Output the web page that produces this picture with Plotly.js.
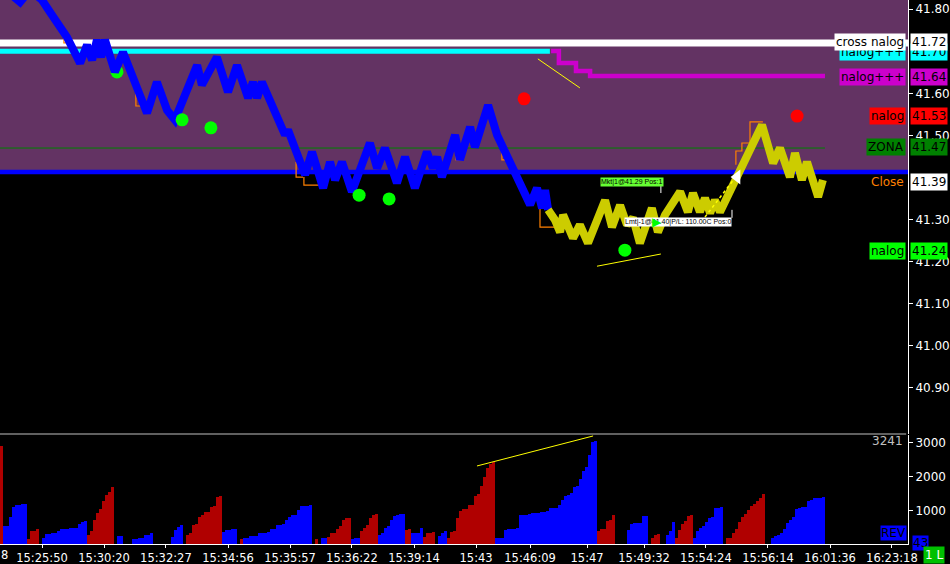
<!DOCTYPE html>
<html><head><meta charset="utf-8">
<script src="https://cdn.plot.ly/plotly-3.0.1.min.js"></script>
<style>html,body{margin:0;padding:0;background:#000;}#chart{width:950px;height:564px;}</style>
</head><body><div id="chart"></div>
<script>
// ---------- DATA (x = bar index, y = price / volume) ----------
const tickBars = [13.5,34.2,54.8,75.5,96.2,116.8,137.5,158.2,176.2,195.2,214.2,234.8,255.5,276.2,296.8];
const tickLabels = ['15:25:50','15:30:20','15:32:27','15:34:56','15:35:57','15:36:22','15:39:14','15:43','15:46:09','15:47','15:49:32','15:54:24','15:56:14','16:01:36','16:23:18'];
const priceTicks = [40.9,41.0,41.1,41.2,41.3,41.5,41.6,41.8];
const volTicks = [1000,2000,3000];

const bluePathBar = [2.2,6.2,9.5,13.5,16.2,18.8,21.8,26.2,28.5,30.2,31.8,33.2,34.5,37.8,40.5,48.5,51.8,55.2,57.8,65.2,66.8,71.8,75.5,78.5,82.2,83.8,85.2,86.8,92.8,94.5,95.5,101.2,103.5,107.2,109.5,111.2,113.5,116.8,122.8,125.2,127.8,131.8,134.5,137.8,141.8,143.8,145.2,146.8,151.2,152.8,156.2,157.8,162.2,165.2,176.2,178.5,180.2,181.2,182.2];
const bluePathPrice = [41.841,41.817,41.846,41.822,41.793,41.763,41.734,41.672,41.715,41.679,41.727,41.686,41.727,41.651,41.698,41.553,41.627,41.560,41.537,41.667,41.620,41.686,41.603,41.667,41.589,41.627,41.589,41.627,41.529,41.501,41.513,41.406,41.461,41.375,41.437,41.394,41.437,41.366,41.482,41.422,41.470,41.387,41.449,41.375,41.461,41.422,41.449,41.401,41.501,41.442,41.520,41.472,41.572,41.501,41.335,41.375,41.327,41.370,41.323];
const yellowPathBar = [182.2,184.5,186.2,187.2,190.5,192.8,195.5,201.2,203.5,206.2,208.5,210.5,212.8,216.8,218.8,221.2,226.2,228.8,230.5,232.8,234.5,236.2,237.8,239.5,253.5,257.2,259.5,262.8,264.5,266.8,268.5,272.2,273.8];
const yellowPathPrice = [41.323,41.299,41.270,41.311,41.256,41.287,41.244,41.346,41.282,41.334,41.287,41.304,41.244,41.327,41.270,41.311,41.366,41.318,41.363,41.318,41.351,41.315,41.346,41.318,41.525,41.434,41.470,41.401,41.458,41.394,41.437,41.354,41.394];

const orangeBar = [20.8,20.8,22.2,null,44.8,44.8,46.8,null,98.2,98.2,100.5,null,100.8,100.8,105.8,null,151.5,151.5,153.8,null,166.8,166.8,168.5,null,179.5,179.5,185.2,null,244.8,244.8,246.8,246.8,249.5,249.5,253.8];
const orangePrice = [41.739,41.720,41.720,null,41.601,41.570,41.570,null,41.437,41.401,41.401,null,41.401,41.382,41.382,null,41.461,41.442,41.442,null,41.470,41.442,41.442,null,41.327,41.282,41.282,null,41.430,41.463,41.463,41.482,41.482,41.532,41.532];

const greenDotBar = [38.5,60.2,69.8,119.2,129.2,207.8];
const greenDotPrice = [41.651,41.537,41.518,41.358,41.349,41.227];
const redDotBar = [174.2,265.2];
const redDotPrice = [41.587,41.546];

const levelCrossNalog = 41.72;
const levelNalogCyan = 41.70;
const levelNalogMagenta = 41.64;
const levelNalogRed = 41.53;
const levelZona = 41.47;
const levelClose = 41.39;
const levelNalogGreen = 41.24;
const levelBase = 41.413;
const magentaBar = [183.2,185.8,190.2,191.5,195.5,196.2,274.5];
const magentaPrice = [41.701,41.672,41.672,41.653,41.653,41.641,41.641];

const trendABar = [178.8,192.8], trendAPrice = [41.682,41.613];
const trendBBar = [198.5,219.8], trendBPrice = [41.189,41.218];
const trendDotBar = [234.5,244.5], trendDotPrice = [41.306,41.399];
const volTrendBar = [158.5,197.2], volTrendValue = [2315,3197];
const arrowBar = [245.2,218.5], arrowPrice = [41.401,41.294];
const tradeTickBar = [219.8,219.8,null,243.5,243.5];
const tradeTickPrice = [41.380,41.363,null,41.323,41.304];

const volStart = [0,1,9,14,29,39,44,57,62,74,80,81,105,107,109,117,120,126,135,137,141,146,149,165,199,209,217,222,225,231,242,257];
const volSide = ['R','B','R','B','R','B','B','B','R','B','R','B','R','B','R','B','R','B','R','B','R','B','R','B','R','B','R','B','R','B','R','B'];
const volWaves = [
 [2910],
 [560,560,820,1120,1180,1180,1200,1200],
 [180,390,390,470],
 [190,300,300,330,330,410,470,470,470,500,500,500,620,680,700],
 [290,410,740,940,1060,1290,1470,1560,1710],
 [270,270],
 [180,180,210,210,290,290,350],
 [230,440,530,590],
 [290,350,590,620,820,880,970,970,1120,1150,1410,1440],
 [380,440,440,470,470],
 [180],
 [190,190,270,270,270,330,350,350,380,470,470,590,590,620,740,820,880,880,1030,1150,1150,1150,1180],
 [180],
 [200,200],
 [230,350,350,470,560,740,770,770],
 [180,210,210],
 [410,500,590,770,880,910],
 [290,350,500,560,740,830,880,910,910],
 [440,470],
 [350,350,350,500],
 [240,350,350,380],
 [270,350,410],
 [190,380,410,770,990,1060,1060,1180,1180,1440,1500,1730,2000,2260,2380,2440],
 [190,210,210,440,470,470,470,500,880,880,880,910,940,940,940,970,970,1000,1090,1090,1090,1180,1300,1440,1470,1530,1710,1730,1940,2170,2290,2650,3030,3060],
 [410,470,470,700,740,880],
 [440,620,650,650,650,830,850],
 [190,290,320],
 [290,410,680],
 [210,440,620,700,850,880],
 [210,410,500,560,680,770,800,1090,1090,1120],
 [190,210,350,470,680,800,910,1030,1150,1210,1270,1380,1500],
 [190,270,290,350,470,650,740,800,1060,1090,1120,1120,1270,1300,1380,1380,1380,1410]
];

// ---------- BUILD ----------
const F = 'DejaVu Sans, Verdana, sans-serif';
const X0 = -0.5, X1 = 302.17;
const PR = [40.790, 41.822];
const PURPLE = '#633363';

const volRedX=[],volRedY=[],volBlueX=[],volBlueY=[];
volWaves.forEach((w,k)=>{w.forEach((v,j)=>{const i=volStart[k]+j;
  if(volSide[k]==='R'){volRedX.push(i);volRedY.push(v);}else{volBlueX.push(i);volBlueY.push(v);}});});

function ln(x,y,color,width,extra){return Object.assign({type:'scatter',mode:'lines',x:x,y:y,
  line:{color:color,width:width},hoverinfo:'skip',showlegend:false,xaxis:'x',yaxis:'y'},extra||{});}

const traces = [
  ln([X0,X1],[levelBase,levelBase],'#0000ff',4.5),
  ln([X0,274.5],[levelZona,levelZona],'#008000',1),
  ln([X0,182.8],[levelNalogCyan,levelNalogCyan],'#00ffff',5),
  ln([X0,X1],[levelCrossNalog,levelCrossNalog],'#ffffff',7),
  ln(magentaBar,magentaPrice,'#cc00cc',4.5,{line:{color:'#cc00cc',width:4.5,shape:'hv'}}),
  ln(orangeBar,orangePrice,'#ff8000',1.2,{connectgaps:false}),
  {type:'scatter',mode:'markers',x:greenDotBar.slice(0,1),y:greenDotPrice.slice(0,1),marker:{color:'#00ff00',size:13},hoverinfo:'skip',showlegend:false},
  ln(bluePathBar,bluePathPrice,'#0000ff',8),
  ln(yellowPathBar,yellowPathPrice,'#cccc00',8),
  ln(trendABar,trendAPrice,'#ffff00',1),
  ln(trendBBar,trendBPrice,'#ffff00',1),
  ln(trendDotBar,trendDotPrice,'#ffff00',1.5,{line:{color:'#ffff00',width:1.5,dash:'dot'}}),
  ln(tradeTickBar,tradeTickPrice,'#ffffff',1,{connectgaps:false}),
  {type:'scatter',mode:'markers',x:greenDotBar.slice(1),y:greenDotPrice.slice(1),marker:{color:'#00ff00',size:13},hoverinfo:'skip',showlegend:false},
  {type:'scatter',mode:'markers',x:redDotBar,y:redDotPrice,marker:{color:'#ff0000',size:13},hoverinfo:'skip',showlegend:false},
  {type:'scatter',mode:'markers',x:arrowBar.slice(0,1),y:arrowPrice.slice(0,1),marker:{color:'#ffffff',size:13,symbol:'triangle-left'},hoverinfo:'skip',showlegend:false},
  {type:'bar',x:volRedX,y:volRedY,width:1,marker:{color:'#b00000',line:{width:0}},xaxis:'x',yaxis:'y2',hoverinfo:'skip',showlegend:false},
  {type:'bar',x:volBlueX,y:volBlueY,width:1,marker:{color:'#0000ff',line:{width:0}},xaxis:'x',yaxis:'y2',hoverinfo:'skip',showlegend:false},
  ln(volTrendBar,volTrendValue,'#ffff00',1,{yaxis:'y2'})
];

function axisBox(text,y,bg,fg){return {xref:'paper',x:1,xanchor:'left',xshift:2,yref:'y',y:y,yanchor:'middle',
  text:text,showarrow:false,bgcolor:bg,borderpad:1,font:{family:F,size:12,color:fg}};}
function inBox(text,y,bg,fg){return {xref:'paper',x:1,xanchor:'right',xshift:-2,yref:'y',y:y,yanchor:'middle',
  text:text,showarrow:false,bgcolor:bg,borderpad:1,font:{family:F,size:12,color:fg}};}

const annotations = [
  inBox('nalog+++',41.699,'#00ffff','#000'),
  axisBox('41.70',41.699,'#00ffff','#000'),
  inBox('cross nalog',41.721,'#ffffff','#000'),
  axisBox(levelCrossNalog.toFixed(2),41.721,'#ffffff','#000'),
  inBox('nalog+++',41.640,'#cc00cc','#000'),
  axisBox(levelNalogMagenta.toFixed(2),41.640,'#cc00cc','#000'),
  inBox('nalog',41.546,'#ff0000','#000'),
  axisBox(levelNalogRed.toFixed(2),41.546,'#ff0000','#000'),
  inBox('ZONA',41.472,'#008000','#000'),
  axisBox(levelZona.toFixed(2),41.472,'#008000','#000'),
  {xref:'paper',x:1,xanchor:'right',xshift:-2,yref:'y',y:41.390,yanchor:'middle',text:'Close',showarrow:false,font:{family:F,size:12,color:'#ff8000'}},
  axisBox(levelClose.toFixed(2),41.390,'#ffffff','#000'),
  inBox('nalog',41.226,'#00ff00','#000'),
  axisBox(levelNalogGreen.toFixed(2),41.226,'#00ff00','#000'),
  {xref:'x',x:210.2,yref:'y',y:41.389,text:'Mkt|1@41.29 Pos:1',showarrow:false,bgcolor:'#66ff33',borderpad:0,font:{family:'Liberation Sans, Arial',size:7,color:'#000'}},
  {xref:'x',x:225.5,yref:'y',y:41.294,text:'Lmt|-1@41.40|P/L: 110.00C Pos:0',showarrow:false,bgcolor:'#ffffff',borderpad:0,font:{family:'Liberation Sans, Arial',size:7,color:'#000'}},
  {xref:'x',x:arrowBar[1],yref:'y',y:arrowPrice[1],text:'\u25B6',showarrow:false,font:{family:F,size:12,color:'#00ff00'}},
  {xref:'paper',x:1,xanchor:'right',xshift:-3,yref:'y2',y:3050,yanchor:'middle',text:'3241',showarrow:false,font:{family:F,size:12,color:'#c0c0c0'}},
  {xref:'paper',x:1,xanchor:'right',xshift:-1,yref:'y2',y:330,yanchor:'middle',text:'REV',showarrow:false,bgcolor:'#0000ff',borderpad:0,font:{family:F,size:12,color:'#000'}},
  {xref:'paper',x:1,xanchor:'left',xshift:4,yref:'paper',y:0.001,yanchor:'middle',text:'43',showarrow:false,bgcolor:'#0000ff',borderpad:0,font:{family:F,size:12,color:'#000'}},
  {xref:'paper',x:1,xanchor:'left',xshift:15,yref:'paper',y:-0.0205,yanchor:'middle',text:'1 L',showarrow:false,bgcolor:'#00c000',borderpad:1,font:{family:F,size:12,color:'#fff'}},
  {xref:'paper',x:0,xanchor:'left',xshift:-1,yref:'paper',y:-0.021,yanchor:'middle',text:'8',showarrow:false,font:{family:F,size:11.5,color:'#fff'}}
];

const layout = {
  width:950,height:564,margin:{l:0,r:42,t:0,b:20,pad:0},
  paper_bgcolor:'#000',plot_bgcolor:'#000',showlegend:false,barmode:'overlay',bargap:0,
  xaxis:{range:[X0,X1],showgrid:false,zeroline:false,showline:true,linecolor:'#fff',linewidth:1,
    ticks:'outside',ticklen:3,tickcolor:'#fff',tickvals:tickBars,ticktext:tickLabels,
    tickfont:{family:F,size:11.5,color:'#fff'},anchor:'y2',fixedrange:true},
  yaxis:{domain:[0.2022,1],range:PR,side:'right',showgrid:false,zeroline:false,showline:true,
    linecolor:'#fff',linewidth:1,ticks:'outside',ticklen:4,tickcolor:'#fff',tickvals:priceTicks,
    ticktext:priceTicks.map(v=>v.toFixed(2)),tickfont:{family:F,size:12,color:'#fff'},anchor:'x'},
  yaxis2:{domain:[0,0.2004],range:[20,3226],side:'right',showgrid:false,zeroline:false,showline:true,
    linecolor:'#fff',linewidth:1,ticks:'outside',ticklen:4,tickcolor:'#fff',tickvals:volTicks,
    ticktext:volTicks.map(String),tickfont:{family:F,size:12,color:'#fff'},anchor:'x'},
  shapes:[
    {type:'rect',xref:'paper',x0:0,x1:1,yref:'y',y0:levelBase,y1:PR[1],fillcolor:PURPLE,line:{width:0},layer:'below'},
    {type:'line',xref:'paper',x0:0,x1:0.998,yref:'paper',y0:0.2022,y1:0.2022,line:{color:'#c0c0c0',width:1}}
  ],
  annotations:annotations
};
Plotly.newPlot('chart',traces,layout,{staticPlot:true,displayModeBar:false});
</script></body></html>
